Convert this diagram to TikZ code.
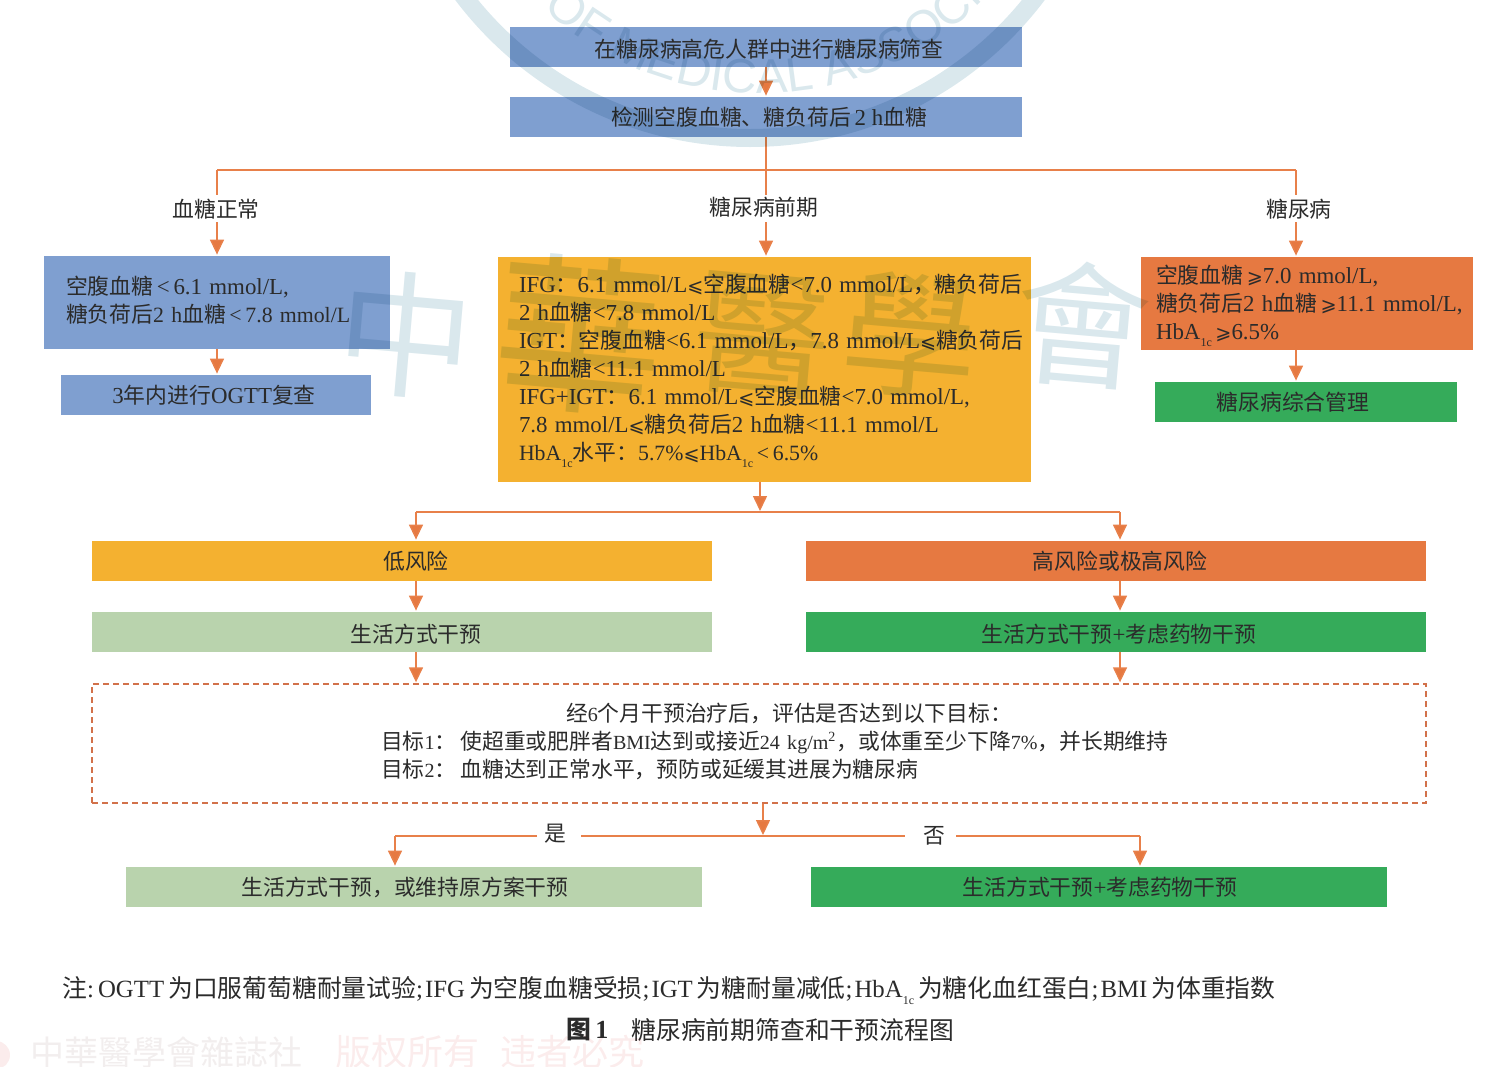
\documentclass[tikz,border=0pt]{standalone}
\usepackage{fontspec}
\usetikzlibrary{arrows.meta,calc,decorations.text}
\setmainfont{Noto Sans CJK SC}
\newfontfamily\enf[Scale=1.05]{Liberation Serif}
\newfontfamily\encf[Scale=1.0]{Liberation Serif}
\newfontfamily\ensf[Scale=0.92]{Liberation Serif}
\newfontfamily\djf[Scale=0.88]{DejaVu Sans}
\newfontfamily\wmf{Noto Sans CJK TC}
\newfontfamily\wmlat{Liberation Sans}
\newcommand\en[1]{{\enf #1}}
\newcommand\enc[1]{{\encf #1}}
\newcommand\ens[1]{{\ensf #1}}
\newcommand\sle{{\djf ⩽}}
\newcommand\sge{{\djf ⩾}}
\newcommand\oneC{\raisebox{-3.5pt}{\fontsize{6}{6}\selectfont\encf 1c}}
\newcommand\lowr[2]{\raisebox{-#1}[\height][\depth]{#2}}
\hfuzz=200pt
\hbadness=10000
\definecolor{blueb}{HTML}{7F9FD0}
\definecolor{orangeb}{HTML}{E67941}
\definecolor{yellowb}{HTML}{F4B130}
\definecolor{greenb}{HTML}{35AB5A}
\definecolor{paleg}{HTML}{B9D3AD}
\definecolor{linec}{HTML}{E8804A}
\definecolor{dashc}{HTML}{D2714A}
\definecolor{ink}{HTML}{2B2B2B}
\definecolor{wmteal}{HTML}{DAE8ED}
\definecolor{wmpink}{HTML}{FBECEC}
\definecolor{wmgrey}{HTML}{F2EEEE}
\tikzset{
  base/.style={font=\fontsize{10.9}{14}\selectfont, text=ink, inner sep=0pt},
  box/.style={base, minimum height=20pt, anchor=center},
  lab/.style={base, text=ink},
  conn/.style={draw=linec, line width=0.75pt},
  arr/.style={conn, -{Triangle[length=7.5pt,width=7pt,fill=orangeb]}, shorten >=0.5pt},
  notet/.style={font=\fontsize{12.4}{15}\selectfont, text=ink, inner sep=0pt, anchor=west},
  wmbig/.style={font=\wmf\fontsize{68}{68}\selectfont, text=wmteal, inner sep=0pt},
}
\begin{document}
\begin{tikzpicture}[x=0.5pt,y=-0.5pt]
\useasboundingbox (0,0) rectangle (1510,1066);
% boxes
\node[box,fill=blueb,minimum width=256pt] (a) at (766,47) {\hspace*{3pt}\lowr{1pt}{在糖尿病高危人群中进行糖尿病筛查}};
\node[box,fill=blueb,minimum width=256pt] (b) at (766,117) {\hspace*{3pt}检测空腹血糖、糖负荷后\,\en{2 h}血糖};
\node[box,fill=blueb,minimum width=173pt,minimum height=46.5pt,text width=173pt,align=left] (l1) at (217,302.5)
 {\hspace*{11pt}空腹血糖\,\en{<\,6.1 mmol/L,}\\\hspace*{11pt}糖负荷后\enc{2 h}血糖\,\enc{<\,7.8 mmol/L}\par\kern 2pt};
\node[box,fill=blueb,minimum width=155pt] (l2) at (216,395) {\hspace*{-2pt}\en{3}年内进行\en{OGTT}复查};
\node[box,fill=yellowb,minimum width=266.5pt,minimum height=112.5pt,text width=266.5pt,align=left] (m) at (764.5,369.5)
 {\hspace*{10.5pt}\en{IFG}：\en{6.1 mmol/L}\sle 空腹血糖\en{<7.0 mmol/L}，糖负荷后\\
  \hspace*{10.5pt}\en{2 h}血糖\en{<7.8 mmol/L}\\
  \hspace*{10.5pt}\en{IGT}：空腹血糖\en{<6.1 mmol/L}，\en{7.8 mmol/L}\sle 糖负荷后\\
  \hspace*{10.5pt}\en{2 h}血糖\en{<11.1 mmol/L}\\
  \hspace*{10.5pt}\en{IFG+IGT}：\en{6.1 mmol/L}\sle 空腹血糖\en{<7.0 mmol/L,}\\
  \hspace*{10.5pt}\en{7.8 mmol/L}\sle 糖负荷后\en{2 h}血糖\en{<11.1 mmol/L}\\
  \hspace*{10.5pt}\enc{HbA}\oneC 水平：\enc{5.7\%}\sle\enc{HbA}\oneC\enc{\,<\,6.5\%}\par\kern -1pt};
\node[box,fill=orangeb,minimum width=166pt,minimum height=46.5pt,text width=166pt,align=left] (r1) at (1307,303.5)
 {\hspace*{7.5pt}空腹血糖\,\sge\en{7.0 mmol/L,}\\
  \hspace*{7.5pt}糖负荷后\en{2 h}血糖\,\sge\en{11.1 mmol/L,}\\
  \hspace*{7.5pt}\en{HbA}\oneC\,\sge\en{6.5\%}\par\kern -2pt};
\node[box,fill=greenb,minimum width=151pt] (r2) at (1306,402) {\hspace*{-13pt}糖尿病综合管理};
\node[box,fill=yellowb,minimum width=310pt] (low) at (402,561) {\hspace*{14pt}低风险};
\node[box,fill=orangeb,minimum width=310pt] (high) at (1116,561) {\hspace*{4pt}高风险或极高风险};
\node[box,fill=paleg,minimum width=310pt] (lifelow) at (402,632) {\hspace*{14pt}\lowr{1pt}{生活方式干预}};
\node[box,fill=greenb,minimum width=310pt] (lifehigh) at (1116,632) {\hspace*{3pt}\lowr{1pt}{生活方式干预\en{+}考虑药物干预}};
\node[box,draw=dashc,dash pattern=on 3pt off 2pt,line width=0.7pt,minimum width=667pt,minimum height=59.5pt,text width=667pt,align=left] (goal) at (759,743.5)
 {\hspace*{237pt}经\ens{6}个月干预治疗后，评估是否达到以下目标：\\
  \hspace*{144.5pt}目标\ens{1}：\hspace{2pt}使超重或肥胖者\ens{BMI}达到或接近\ens{24 kg/m\textsuperscript{2}}，或体重至少下降\ens{7\%}，并长期维持\\
  \hspace*{144.5pt}目标\ens{2}：\hspace{2pt}血糖达到正常水平，预防或延缓其进展为糖尿病\par\kern 2pt};
\node[box,fill=paleg,minimum width=288pt] (yesb) at (414,887) {\hspace*{-9pt}生活方式干预，或维持原方案干预};
\node[box,fill=greenb,minimum width=288pt] (nob) at (1099,887) {\hspace*{1pt}生活方式干预\en{+}考虑药物干预};
% branch labels
\node[lab] (n1) at (216,209) {血糖正常};
\node[lab] (n2) at (764,207) {糖尿病前期};
\node[lab] (n3) at (1299,209) {糖尿病};
\node[lab] (yes) at (555,834) {是};
\node[lab] (no) at (934,836) {否};
% helper coordinates
\coordinate (tl) at (217,170);
\coordinate (tm) at (766,170);
\coordinate (tr) at (1296,170);
\coordinate (fm) at (760,512);
\coordinate (fl) at (416,512);
\coordinate (fr) at (1120,512);
\coordinate (sm) at (763,836);
\coordinate (sl) at (395,836);
\coordinate (sr) at (1140,836);
% connectors
\draw[arr] (a.south) -- (b.north);
\draw[conn] (b.south) -- (tm);
\draw[conn] (tl) -- (tr);
\draw[conn] (tl) -- (217,195);
\draw[conn] (tm) -- (766,195);
\draw[conn] (tr) -- (1296,195);
\draw[arr] (217,222) -- (l1.north -| tl);
\draw[arr] (766,222) -- (m.north -| tm);
\draw[arr] (1296,222) -- (r1.north -| tr);
\draw[arr] (l1.south -| tl) -- (l2.north -| tl);
\draw[arr] (r1.south -| tr) -- (r2.north -| tr);
\draw[arr] (m.south -| fm) -- (fm);
\draw[conn] (fl) -- (fr);
\draw[arr] (fl) -- (low.north -| fl);
\draw[arr] (fr) -- (high.north -| fr);
\draw[arr] (low.south -| fl) -- (lifelow.north -| fl);
\draw[arr] (high.south -| fr) -- (lifehigh.north -| fr);
\draw[arr] (lifelow.south -| fl) -- (goal.north -| fl);
\draw[arr] (lifehigh.south -| fr) -- (goal.north -| fr);
\draw[arr] (goal.south -| sm) -- (sm);
\draw[conn] (537,836) -- (sl);
\draw[arr] (sl) -- (yesb.north -| sl);
\draw[conn] (581,836) -- (905,836);
\draw[conn] (956,836) -- (sr);
\draw[arr] (sr) -- (nob.north -| sr);
% note and caption
\node[notet] (note) at (62,991) {注\enc{:\hspace{2pt}OGTT}\hspace{2pt}为口服葡萄糖耐量试验\enc{;\hspace{1pt}IFG}\hspace{2pt}为空腹血糖受损\enc{;\hspace{1pt}IGT}\hspace{2pt}为糖耐量减低\enc{;\hspace{1pt}HbA}\oneC\hspace{2pt}为糖化血红蛋白\enc{;\hspace{1pt}BMI}\hspace{2pt}为体重指数};
\node[notet] (capa) at (566,1030) {\bfseries 图\,\en{1}};
\node[notet] (capb) at (631,1030) {糖尿病前期筛查和干预流程图};
% watermark layer
\begin{scope}[blend mode=multiply]
\draw[wmteal,line width=9pt] (750,-222) circle[radius=360];
\path[postaction={decorate},decoration={text along path,text color=wmteal,
   text={|\wmlat\fontsize{24}{24}\selectfont|OF MEDICAL ASSOCIATION}}]
   (543,8) arc[start angle=133,end angle=40,radius=317];
\node[wmbig,rotate=-5] (w1) at (406,335) {中};
\node[wmbig,rotate=-5,scale=1.25] (w2) at (580,335) {華};
\node[wmbig,rotate=-5] (w3) at (763,335) {醫};
\node[wmbig,rotate=-5] (w4) at (911,335) {學};
\node[wmbig,rotate=-5] (w5) at (1083,325) {會};
\node[font=\wmf\fontsize{17}{17}\selectfont,text=wmgrey,inner sep=0pt,anchor=west] (w6) at (30,1052) {中華醫學會雜誌社};
\node[font=\wmf\fontsize{18}{18}\selectfont,text=wmpink,inner sep=0pt,anchor=west] (w7) at (335,1052) {版权所有};
\node[font=\wmf\fontsize{18}{18}\selectfont,text=wmpink,inner sep=0pt,anchor=west] (w8) at (500,1052) {违者必究};
\fill[wmpink] (-4,1055) circle[radius=14];
\end{scope}
\end{tikzpicture}
\end{document}
